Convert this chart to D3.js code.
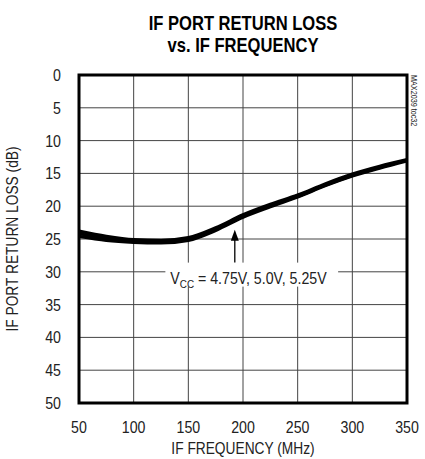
<!DOCTYPE html>
<html><head><meta charset="utf-8">
<script src="https://cdn.jsdelivr.net/npm/d3@7"></script>
<style>
body{margin:0;background:#fff;}
text{font-family:"Liberation Sans",Arial,sans-serif;}
</style></head>
<body><svg id="c" width="425" height="459"></svg>
<script>
const freqs = [50, 75, 100, 125, 150, 175, 200, 225, 250, 275, 300, 325, 350];
const rl475 = [24.6, 25.2, 25.5, 25.6, 25.2, 23.7, 21.7, 20.1, 18.6, 16.9, 15.4, 14.2, 13.1];
const rl500 = [24.2, 24.9, 25.3, 25.4, 25.0, 23.5, 21.5, 19.9, 18.5, 16.8, 15.3, 14.1, 13.0];
const rl525 = [23.8, 24.6, 25.1, 25.2, 24.8, 23.3, 21.3, 19.7, 18.3, 16.6, 15.1, 13.9, 12.9];
const xTicks = [50, 100, 150, 200, 250, 300, 350];
const yTicks = [0, 5, 10, 15, 20, 25, 30, 35, 40, 45, 50];

const svg = d3.select("#c");
const L = 79, R = 407, T = 75, B = 403;
const x = d3.scaleLinear().domain([50, 350]).range([L, R]);
const y = d3.scaleLinear().domain([0, 50]).range([T, B]);
const SX = 0.86;

function ctext(g, px, py, str, size, anchor, opts = {}) {
  const t = g.append("text")
    .attr("transform", `translate(${px},${py}) ${opts.rot ? `rotate(${opts.rot})` : ""} scale(${opts.sx || SX},1)`)
    .attr("text-anchor", anchor).attr("font-size", size)
    .attr("fill", opts.fill || "#222");
  if (opts.bold) t.attr("font-weight", "bold");
  t.text(str);
  return t;
}

// grid
svg.append("g").selectAll("line").data(yTicks.slice(1, -1)).join("line")
  .attr("x1", L).attr("x2", R).attr("y1", d => y(d)).attr("y2", d => y(d))
  .attr("stroke", "#444").attr("stroke-width", 1);
svg.append("g").selectAll("line").data(xTicks.slice(1, -1)).join("line")
  .attr("y1", T).attr("y2", B).attr("x1", d => x(d)).attr("x2", d => x(d))
  .attr("stroke", "#444").attr("stroke-width", 1);

// curves
const line = d3.line().x((d, i) => x(freqs[i])).y(d => y(d)).curve(d3.curveMonotoneX);
[rl475, rl500, rl525].forEach(s => {
  svg.append("path").datum(s).attr("d", line).attr("fill", "none")
    .attr("stroke", "#000").attr("stroke-width", 3.2);
});

// annotation
const lbl = svg.append("g");
lbl.append("rect").attr("x", x(129)).attr("y", y(28.6)).attr("width", x(287) - x(129)).attr("height", 24).attr("fill", "#fff");
const t = lbl.append("text").attr("transform", `translate(${x(133.5)},${y(31.9)}) scale(${SX},1)`)
  .attr("font-size", 16.5).attr("fill", "#222");
t.append("tspan").text("V");
t.append("tspan").attr("font-size", 11.5).attr("dy", 4).text("CC");
t.append("tspan").attr("dy", -4).text(" = 4.75V, 5.0V, 5.25V");
const ax = x(192.5);
svg.append("line").attr("x1", ax).attr("x2", ax).attr("y1", y(23.6) + 8).attr("y2", y(28.6)).attr("stroke", "#000").attr("stroke-width", 1.3);
svg.append("path").attr("d", `M${ax},${y(23.6)} L${ax - 4},${y(23.6) + 11} L${ax + 4},${y(23.6) + 11} Z`).attr("fill", "#000");

// frame
svg.append("rect").attr("x", L).attr("y", T).attr("width", R - L).attr("height", B - T)
  .attr("fill", "none").attr("stroke", "#000").attr("stroke-width", 3);

// tick labels
const gy = svg.append("g");
yTicks.forEach(d => ctext(gy, 61, y(d) + 6, d, 16.5, "end"));
const gx = svg.append("g");
xTicks.forEach(d => ctext(gx, x(d), 433, d, 16.5, "middle"));

// axis titles
ctext(svg, (L + R) / 2 + 0, 454, "IF FREQUENCY (MHz)", 16, "middle");
ctext(svg, 18, (T + B) / 2, "IF PORT RETURN LOSS (dB)", 16, "middle", { rot: -90 });

// title
ctext(svg, 243, 30, "IF PORT RETURN LOSS", 19.5, "middle", { bold: true, fill: "#000", sx: 0.85 });
ctext(svg, 243, 52, "vs. IF FREQUENCY", 19.5, "middle", { bold: true, fill: "#000", sx: 0.85 });

// side id
ctext(svg, 411, T, "MAX2039 toc32", 8.5, "start", { rot: 90, sx: 0.85 });
</script></body></html>
